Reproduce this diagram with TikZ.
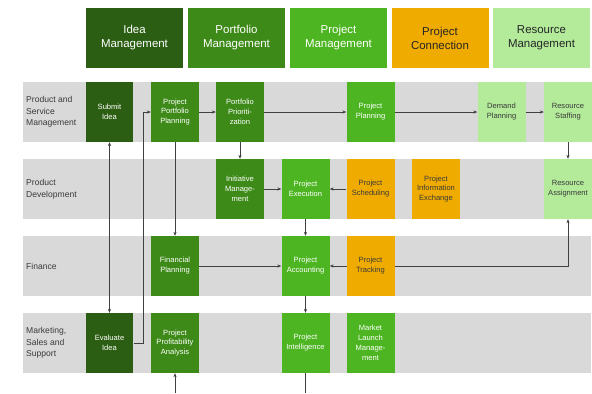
\documentclass[tikz,border=0pt]{standalone}
\usepackage{fontspec}
\setmainfont{Liberation Sans}
\usetikzlibrary{arrows.meta,calc}
\definecolor{cidea}{HTML}{2B5E12}
\definecolor{cport}{HTML}{3D8A18}
\definecolor{cproj}{HTML}{4DB521}
\definecolor{cconn}{HTML}{F0AB00}
\definecolor{cres}{HTML}{B3EB9A}
\definecolor{cband}{HTML}{D9D9D9}
\definecolor{cline}{HTML}{404040}
\definecolor{ctext}{HTML}{3A3A3A}
\tikzset{
  hdr/.style={rectangle, minimum width=97bp, minimum height=60bp, inner sep=1pt, align=center, font=\fontsize{11.5}{14}\selectfont},
  box/.style={rectangle, minimum width=46.5bp, minimum height=60bp, inner sep=1pt, align=center, font=\fontsize{7.6}{10}\selectfont, text width=46bp},
  band/.style={fill=cband, draw=none},
  rowlab/.style={anchor=west, align=left, text=ctext, font=\fontsize{8.6}{11.7}\selectfont, inner sep=0pt},
  arr/.style={draw=cline, line width=0.6pt, -{Stealth[length=4pt,width=3.2pt]}},
  darr/.style={draw=cline, line width=0.6pt, {Stealth[length=4pt,width=3.2pt]}-{Stealth[length=4pt,width=3.2pt]}},
  ln/.style={draw=cline, line width=0.6pt}
}
\begin{document}
\begin{tikzpicture}[x=1bp,y=-1bp]
\useasboundingbox (0,0) rectangle (592,393);
% bands
\fill[band] (23,82) rectangle (591,142);
\fill[band] (23,159) rectangle (591,219);
\fill[band] (23,236) rectangle (591,296);
\fill[band] (23,313) rectangle (591,373);
% headers
\node[hdr, fill=cidea, text=white] (h1) at (134.5,38) {Idea\\Management};
\node[hdr, fill=cport, text=white] (h2) at (236.5,38) {Portfolio\\Management};
\node[hdr, fill=cproj, text=white] (h3) at (338.5,38) {Project\\Management};
\node[hdr, fill=cconn, text=black!85] (h4) at (440,38) {Project\\Connection};
\node[hdr, fill=cres, text=black!85] (h5) at (541.5,38) {Resource\\Management};
% row labels
\node[rowlab] (r1) at (26,112) {Product and\\Service\\Management};
\node[rowlab] (r2) at (26,189) {Product\\Development};
\node[rowlab] (r3) at (26,266) {Finance};
\node[rowlab] (r4) at (26,343) {Marketing,\\Sales and\\Support};
% row 1
\node[box, fill=cidea, text=white] (submit) at (109.5,112) {Submit\\Idea};
\node[box, fill=cport, text=white] (ppp) at (175,112) {Project\\Portfolio\\Planning};
\node[box, fill=cport, text=white] (prio) at (240,112) {Portfolio\\Prioriti-\\zation};
\node[box, fill=cproj, text=white] (plan) at (370.5,112) {Project\\Planning};
\node[box, fill=cres, text=ctext] (demand) at (501.5,112) {Demand\\Planning};
\node[box, fill=cres, text=ctext] (staff) at (568,112) {Resource\\Staffing};
% row 2
\node[box, fill=cport, text=white] (init) at (240,189) {Initiative\\Manage-\\ment};
\node[box, fill=cproj, text=white] (exec) at (305.5,189) {Project\\Execution};
\node[box, fill=cconn, text=ctext] (sched) at (370.5,189) {Project\\Scheduling};
\node[box, fill=cconn, text=ctext] (info) at (436,189) {Project\\Information\\Exchange};
\node[box, fill=cres, text=ctext] (assign) at (568,189) {Resource\\Assignment};
% row 3
\node[box, fill=cport, text=white] (fin) at (175,266) {Financial\\Planning};
\node[box, fill=cproj, text=white] (acct) at (305.5,266) {Project\\Accounting};
% connector behind tracking
\draw[arr] (370.5,266) -- (acct.east);
\draw[arr] (370.5,266) -| (assign.south);
\node[box, fill=cconn, text=ctext] (track) at (370.5,266) {Project\\Tracking};
% row 4
\node[box, fill=cidea, text=white] (eval) at (109.5,343) {Evaluate\\Idea};
\node[box, fill=cport, text=white] (ppa) at (175,343) {Project\\Profitability\\Analysis};
\node[box, fill=cproj, text=white] (intel) at (305.5,343) {Project\\Intelligence};
\node[box, fill=cproj, text=white] (market) at (370.5,343) {Market\\Launch\\Manage-\\ment};
% connectors
\draw[darr] (submit.south) -- (eval.north);
\draw[arr] (eval.east) -- ++(10,0) |- (ppp.west);
\draw[arr] (ppp.east) -- (prio.west);
\draw[arr] (prio.east) -- (plan.west);
\draw[arr] (plan.east) -- (demand.west);
\draw[arr] (demand.east) -- (staff.west);
\draw[arr] (ppp.south) -- (fin.north);
\draw[arr] (prio.south) -- (init.north);
\draw[arr] (staff.south) -- (assign.north);
\draw[arr] (init.east) -- (exec.west);
\draw[arr] (sched.west) -- (exec.east);
\draw[arr] (exec.south) -- (acct.north);
\draw[arr] (fin.east) -- (acct.west);
\draw[arr] (acct.south) -- (intel.north);
\coordinate (intelout) at (305.5,393);
\coordinate (ppain) at (175,393);
\draw[ln] (intel.south) -- (intelout);
\draw[arr] (ppain) -- (ppa.south);
\end{tikzpicture}
\end{document}
